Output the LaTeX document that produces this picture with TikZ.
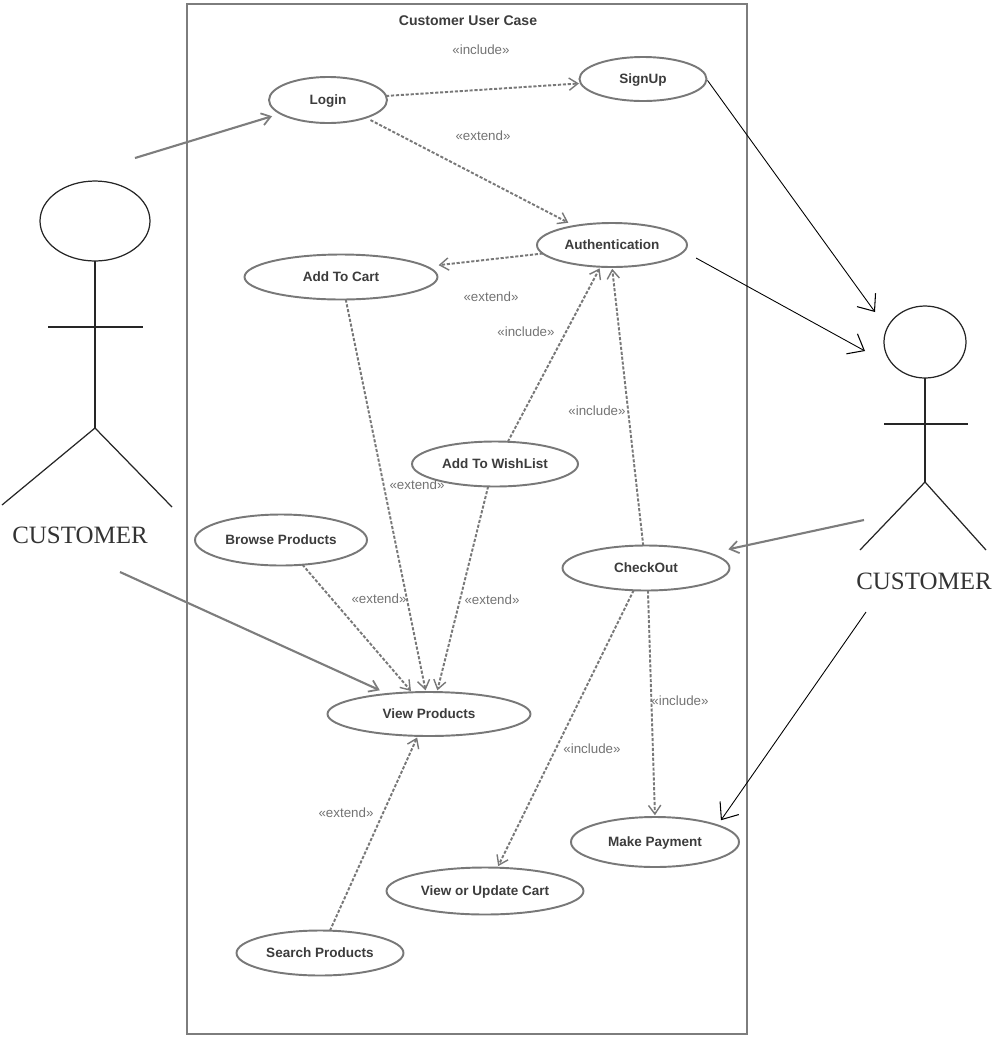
\documentclass[tikz,border=0pt]{standalone}
\usepackage{fontspec}
\setmainfont{Liberation Sans}
\newfontfamily\actorfont{Liberation Serif}
\usetikzlibrary{shapes.geometric,arrows.meta}
\definecolor{boxgray}{RGB}{125,125,125}
\definecolor{usegray}{RGB}{120,120,120}
\definecolor{usetext}{RGB}{60,60,60}
\definecolor{labelgray}{RGB}{115,115,115}
\tikzset{
    usecase/.style={draw=usegray,line width=1.1pt,ellipse,inner sep=0pt,outer sep=0pt,
        text=usetext,text height=5.5pt,text depth=0pt,font=\fontsize{7.7}{10}\selectfont\bfseries},
    stereo/.style={text=labelgray,font=\fontsize{7.6}{9}\selectfont,inner sep=0pt},
    relation/.style={draw=usegray,line width=1.1pt,dash pattern=on 1.8pt off 1pt,shorten >=1pt,
        -{Straight Barb[length=5pt,width=7pt,line width=.8pt,sep=0pt]}},
    actorarrow/.style={draw=boxgray,line width=1.2pt,
        -{Straight Barb[length=5pt,width=7pt,line width=1pt]}},
    thinarrow/.style={draw=black,line width=.5pt,
        -{Straight Barb[length=8pt,width=13pt,line width=.6pt]}},
    stickman/.style={draw=black!85,line width=.7pt},
    actorname/.style={text=black!80,font=\fontsize{14.2}{16}\selectfont\actorfont,inner sep=0pt}
}
\begin{document}
\begin{tikzpicture}[x=0.02cm,y=-0.02cm]
    \useasboundingbox (0,0) rectangle (992,1039);
    \draw[draw=boxgray,line width=1.5pt](187,4)rectangle(747,1034);
    \node[text=usetext,font=\fontsize{8}{10}\selectfont\bfseries,inner sep=0pt](title) at (468,21){Customer User Case};
    \foreach \name/\x/\y/\w/\h/\txt in {
    login/328/100/118/46/Login,
    signup/643/79/127/44/SignUp,
    auth/612/245/150/44/Authentication,
    cart/341/277/193/45/Add To Cart,
    wishlist/495/464/166/45/Add To WishList,
    browse/281/540/172/51/Browse Products,
    checkout/646/568/167/45/CheckOut,
    view/429/714/203/44/View Products,
    payment/655/842/168/50/Make Payment,
    update/485/891/197/47/View or Update Cart,
    search/320/953/167/45/Search Products}{
        \node[usecase,minimum width=\w*0.02cm,minimum height=\h*0.02cm](\name) at (\x,\y){\txt};
    }
    \foreach \name/\x/\y/\txt in {
    incsignup/481/50/include,
    incwish/526/332/include,
    inccheck/597/411/include,
    incpay/680/701/include,
    incupdate/592/749/include,
    extauth/483/136/extend,
    extcart/491/297/extend,
    extview/417/485/extend,
    extbrowse/379/599/extend,
    extwish/492/600/extend,
    extsearch/346/813/extend}{
        \node[stereo](\name) at (\x,\y){«\txt»};
    }
    % dashed relations between use cases
    \draw[relation](login.4)--(signup.184);
    \draw[relation,shorten <=3pt,shorten >=4pt](login.-25)--(auth.153);
    \draw[relation,shorten >=7pt](auth.187)--(cart.7);
    \draw[relation](cart.-78)--(view.98);
    \draw[relation](wishlist.60)--(auth.-118);
    \draw[relation](checkout.97)--(auth.south);
    \draw[relation](wishlist.-107)--(view.70);
    \draw[relation](browse.-49)--(view.128);
    \draw[relation](search.66)--(view.-117);
    \draw[relation](checkout.-119)--(update.62);
    \draw[relation](checkout.-85)--(payment.north);
    % left actor
    \draw[stickman](95,221)ellipse(1.1cm and 0.8cm);
    \draw[stickman](95,261)--(95,428);
    \draw[stickman](48,327)--(143,327);
    \draw[stickman](2,505)--(95,428)--(172,507);
    \node[actorname](custleft) at (80,535){CUSTOMER};
    % right actor
    \draw[stickman](925,342)ellipse(0.82cm and 0.72cm);
    \draw[stickman](925,378)--(925,482);
    \draw[stickman](884,424)--(968,424);
    \draw[stickman](860,550)--(925,482)--(986,550);
    \node[actorname](custright) at (924,581){CUSTOMER};
    % free ends beside the actors
    \coordinate(lefttop) at (135,158);
    \coordinate(leftlow) at (120,572);
    \coordinate(rightmid) at (864,520);
    \coordinate(rightlow) at (866,612);
    \coordinate(headone) at (875,312);
    \coordinate(headtwo) at (865,351);
    \draw[actorarrow,shorten >=5pt](lefttop)--(login.196);
    \draw[actorarrow,shorten >=5pt](leftlow)--(view.154);
    \draw[actorarrow,shorten >=11pt](rightmid)--(checkout.13);
    \draw[thinarrow,shorten <=1pt](signup.east)--(headone);
    \draw[thinarrow,shorten <=8pt](auth.-5)--(headtwo);
    \draw[thinarrow,shorten >=3.5pt](rightlow)--(payment.15);
\end{tikzpicture}
\end{document}
